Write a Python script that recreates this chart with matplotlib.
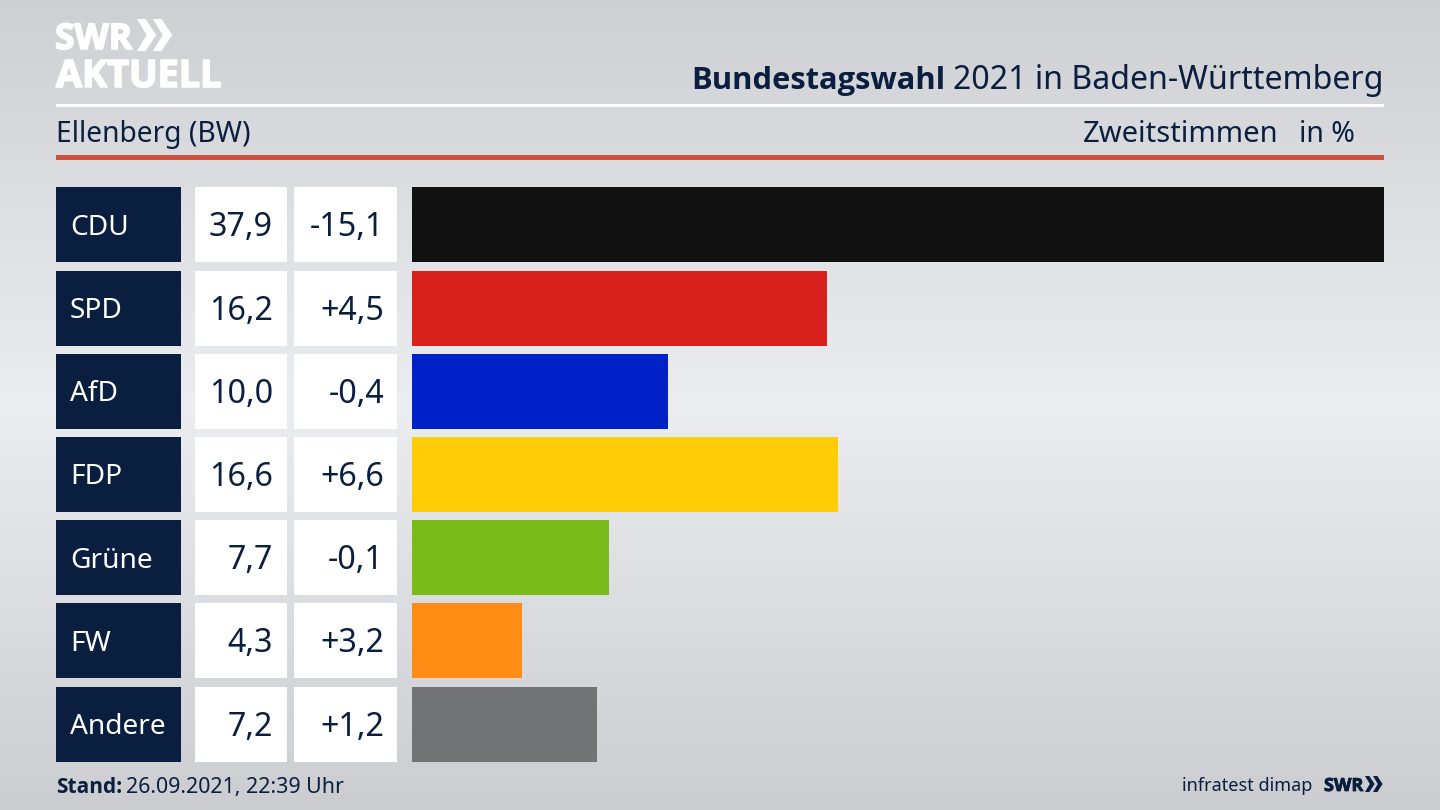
from matplotlib.patches import PathPatch, Rectangle
from matplotlib.path import Path as MplPath
import matplotlib.patheffects as pe
import matplotlib.pyplot as plt
import numpy as np

parties = ['CDU', 'SPD', 'AfD', 'FDP', 'Grüne', 'FW', 'Andere']
shares = [37.9, 16.2, 10.0, 16.6, 7.7, 4.3, 7.2]
changes = [-15.1, 4.5, -0.4, 6.6, -0.1, 3.2, 1.2]
bar_colors = ['#111111', '#d8201c', '#0020c8', '#ffcd08', '#79bc1a', '#ff8c14', '#727375']

NAVY = '#0a1f40'
FONT = 'Noto Sans'
BOLD_FONT = 'Open Sans'
W, H = 1440, 810

# vertical background gradient, light band in the middle
bg_stops = [0, 0.5, 1]
bg_levels = [0.81, 0.925, 0.80]


def de_number(value, signed=False):
    text = f'{value:+.1f}' if signed else f'{value:.1f}'
    return text.replace('.', ',')


def chevrons(ax, x, y, h, color):
    # two small arrows behind the SWR logo
    w = h * 0.6
    for off in (0, h * 0.5):
        verts = [(x + off, y), (x + off + w * 0.45, y), (x + off + w, y + h / 2),
                 (x + off + w * 0.45, y + h), (x + off, y + h), (x + off + w * 0.5, y + h / 2),
                 (x + off, y)]
        ax.add_patch(PathPatch(MplPath(verts, closed=True), fc=color, ec='none', zorder=3))


fig = plt.figure(figsize=(14.4, 8.1), dpi=100)

# pixel canvas for the frame, table and labels
ax = fig.add_axes([0, 0, 1, 1])
ax.set_xlim(0, W)
ax.set_ylim(H, 0)
ax.axis('off')
grad = np.interp(np.linspace(0, 1, 200), bg_stops, bg_levels)
grad = np.dstack([grad, grad + 0.004, grad + 0.018]).reshape(200, 1, 3)
ax.imshow(np.clip(grad, 0, 1), extent=(0, W, H, 0), aspect='auto', zorder=0)

# logo, thickened a little since the installed bold is lighter
heavy_white = [pe.withStroke(linewidth=1.2, foreground='white')]
heavy_navy = [pe.withStroke(linewidth=0.6, foreground=NAVY)]
ax.text(55, 49, 'SWR', color='white', fontsize=25.5, fontweight='bold', family=BOLD_FONT,
        ha='left', va='baseline', path_effects=heavy_white)
chevrons(ax, 137, 19, 32, 'white')
ax.text(56, 87, 'AKTUELL', color='white', fontsize=27.2, fontweight='bold', family=BOLD_FONT,
        ha='left', va='baseline', path_effects=heavy_white)

# header
ax.add_patch(Rectangle((56, 104), 1328, 3, fc='white', ec='none', zorder=2))
ax.add_patch(Rectangle((56, 155), 1328, 5, fc='#cf4f3f', ec='none', zorder=2))
ax.text(945, 89, 'Bundestagswahl', color=NAVY, fontsize=22.2, fontweight='bold', family=BOLD_FONT,
        ha='right', va='baseline')
ax.text(953, 89, '2021 in Baden-Württemberg', color=NAVY, fontsize=23.1, family=FONT,
        ha='left', va='baseline')
ax.text(56, 142, 'Ellenberg (BW)', color=NAVY, fontsize=20.3, family=FONT, ha='left', va='baseline')
ax.text(1278, 142, 'Zweitstimmen', color=NAVY, fontsize=21, family=FONT, ha='right', va='baseline')
ax.text(1355, 142, 'in %', color=NAVY, fontsize=20.5, family=FONT, ha='right', va='baseline')

# table rows
ROW_TOP = 187.4
ROW_STEP = 83.2
ROW_H = 75
for i, (party, share, change) in enumerate(zip(parties, shares, changes)):
    y = ROW_TOP + i * ROW_STEP
    ax.add_patch(Rectangle((56, y), 125, ROW_H, fc=NAVY, ec='none', zorder=2))
    ax.add_patch(Rectangle((195, y), 92, ROW_H, fc='white', ec='none', zorder=2))
    ax.add_patch(Rectangle((294, y), 103, ROW_H, fc='white', ec='none', zorder=2))
    ax.text(70, y + 47.5, party, color='white', fontsize=20.2, family=FONT, ha='left', va='baseline', zorder=3)
    ax.text(273, y + 49, de_number(share), color=NAVY, fontsize=23.2, family=FONT,
            ha='right', va='baseline', zorder=3)
    ax.text(384, y + 49, de_number(change, signed=True), color=NAVY, fontsize=23.2, family=FONT,
            ha='right', va='baseline', zorder=3)

# footer
ax.text(56, 793, 'Stand:', color=NAVY, fontsize=15, fontweight='bold', family=BOLD_FONT, ha='left', va='baseline')
ax.text(126, 793, '26.09.2021, 22:39 Uhr', color=NAVY, fontsize=15.4, family=FONT, ha='left', va='baseline')
ax.text(1312, 791, 'infratest dimap', color=NAVY, fontsize=13, family=FONT, ha='right', va='baseline')
ax.text(1324, 791, 'SWR', color=NAVY, fontsize=13, fontweight='bold', family=BOLD_FONT,
        ha='left', va='baseline', path_effects=heavy_navy)
chevrons(ax, 1365, 776, 16, NAVY)

# bars on their own axes, scaled so the largest value fills the width
bar_ax = fig.add_axes([412 / W, 1 - (ROW_TOP + 6 * ROW_STEP + ROW_H) / H, 972 / W, (6 * ROW_STEP + ROW_H) / H])
bar_ax.patch.set_alpha(0)
y_pos = np.arange(len(parties))
bar_ax.barh(y_pos, shares, height=ROW_H / ROW_STEP, color=bar_colors)
bar_ax.set_xlim(0, max(shares))
half = ROW_H / ROW_STEP / 2
bar_ax.set_ylim(len(parties) - 1 + half, -half)
bar_ax.axis('off')

fig.savefig('out.png', dpi=100)
plt.close(fig)
